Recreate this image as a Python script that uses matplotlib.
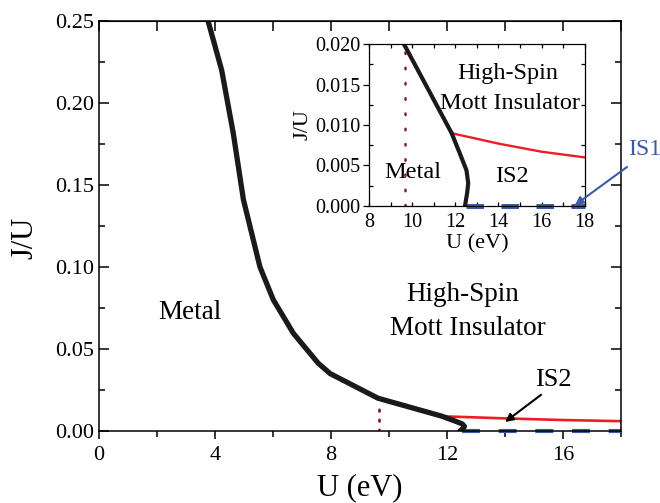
import numpy as np
import matplotlib
matplotlib.use("Agg")
import matplotlib.pyplot as plt
from matplotlib.ticker import MultipleLocator, FormatStrFormatter

plt.rcParams['font.family'] = ['Liberation Serif', 'DejaVu Serif']

# metal / insulator boundary (black)
u_metal = [3.76, 4.23, 4.63, 4.98, 5.55, 6.01, 6.70, 7.56, 7.97, 9.62, 11.83, 12.24, 12.52, 12.60, 12.55, 12.45]
j_metal = [0.250, 0.220, 0.1815, 0.141, 0.100, 0.080, 0.0596, 0.0413, 0.035, 0.020, 0.0090, 0.0063, 0.0044, 0.0028, 0.0016, 0.0]

# high-spin / IS2 boundary (red)
u_hs = [11.8, 13.0, 14.0, 16.0, 18.0]
j_hs = [0.0090, 0.0083, 0.0077, 0.0067, 0.0060]

# IS1 line at J = 0 (blue dashed)
u_is1 = [12.5, 18.0]
j_is1 = [0.0, 0.0]

# dotted marker line
u_dot = [9.66, 9.66]
j_dot_main = [0.0, 0.018]
j_dot_inset = [0.0, 0.020]

blue = '#3b5aa8'
red = '#ee1c24'
darkred = '#8b1c22'

fig = plt.figure(figsize=(6.6, 5.03), dpi=100)
ax = fig.add_axes([0.15, 0.1431, 0.791, 0.8152])

ax.plot(u_dot, j_dot_main, color=darkred, lw=2.0, linestyle=(0, (0.6, 3.0)), dash_capstyle='round')
ax.plot(u_hs, j_hs, color=red, lw=1.9)
ax.plot(u_is1, j_is1, color=blue, lw=3.0, linestyle=(0, (4.3, 4.5)), clip_on=False)
ax.plot(u_metal, j_metal, color='#1a1a1a', lw=3.8, solid_capstyle='round', solid_joinstyle='round')

ax.set_xlim(0, 18)
ax.set_ylim(0, 0.25)
ax.xaxis.set_major_locator(MultipleLocator(4))
ax.xaxis.set_minor_locator(MultipleLocator(2))
ax.yaxis.set_major_locator(MultipleLocator(0.05))
ax.yaxis.set_minor_locator(MultipleLocator(0.025))
ax.yaxis.set_major_formatter(FormatStrFormatter('%.2f'))
ax.tick_params(axis='x', which='both', direction='out', top=False, labelsize=16, width=1.1, pad=5)
ax.tick_params(axis='x', which='major', length=6)
ax.tick_params(axis='x', which='minor', length=4)
ax.tick_params(axis='y', which='both', direction='in', right=True, labelsize=16, width=1.1)
ax.tick_params(axis='y', which='major', length=7)
ax.tick_params(axis='y', which='minor', length=4)
top = ax.secondary_xaxis('top')
top.xaxis.set_major_locator(MultipleLocator(2))
top.tick_params(direction='in', labeltop=False, length=7, width=1.1)
for s in ax.spines.values():
    s.set_linewidth(1.1)

ax.set_xlabel('U (eV)', fontsize=22, labelpad=6)
ax.set_ylabel('J/U', fontsize=22)
ax.yaxis.set_label_coords(-0.115, 0.47)

ax.text(3.15, 0.0725, 'Metal', fontsize=19.5, ha='center', va='center')
ax.text(12.55, 0.083, 'High-Spin', fontsize=19.5, ha='center', va='center')
ax.text(12.72, 0.0628, 'Mott Insulator', fontsize=19.5, ha='center', va='center')
ax.annotate('IS2', xy=(14.0, 0.0055), xytext=(15.66, 0.031), fontsize=19,
            ha='center', va='center',
            arrowprops=dict(arrowstyle='-|>', color='black', lw=1.5, mutation_scale=12,
                            relpos=(0.3, 0.0), shrinkA=1, shrinkB=0))

# inset
ins = fig.add_axes([0.559, 0.5905, 0.327, 0.322])
ins.plot(u_dot, j_dot_inset, color=darkred, lw=1.8, linestyle=(0, (0.6, 5.5)), dash_capstyle='round')
ins.plot(u_hs, j_hs, color=red, lw=1.7)
ins.plot(u_is1, j_is1, color=blue, lw=3.6, linestyle=(0, (3.5, 3.5)), clip_on=False)
ins.plot(u_metal, j_metal, color='#1a1a1a', lw=3.0, solid_capstyle='round', solid_joinstyle='round')
ins.set_xlim(8, 18)
ins.set_ylim(0, 0.020)
ins.xaxis.set_major_locator(MultipleLocator(2))
ins.xaxis.set_minor_locator(MultipleLocator(1))
ins.yaxis.set_major_locator(MultipleLocator(0.005))
ins.yaxis.set_minor_locator(MultipleLocator(0.0025))
ins.yaxis.set_major_formatter(FormatStrFormatter('%.3f'))
ins.tick_params(axis='both', which='both', labelsize=14.5, width=0.9, pad=2)
ins.tick_params(axis='x', which='both', pad=5)
ins.tick_params(axis='y', which='major', direction='out', length=4)
ins.tick_params(axis='y', which='minor', direction='in', right=True, length=3)
ins.tick_params(axis='x', which='both', direction='in', top=True, length=3)
for s in ins.spines.values():
    s.set_linewidth(0.9)
ins.set_xlabel('U (eV)', fontsize=16, labelpad=2)
ins.set_ylabel('J/U', fontsize=16, labelpad=2)

ins.text(10.04, 0.0041, 'Metal', fontsize=17.5, ha='center', va='center')
ins.text(14.43, 0.0164, 'High-Spin', fontsize=17.5, ha='center', va='center')
ins.text(14.53, 0.0127, 'Mott Insulator', fontsize=17.5, ha='center', va='center')
ins.text(14.62, 0.0036, 'IS2', fontsize=17.5, ha='center', va='center')

fig.text(0.951, 0.702, 'IS1', fontsize=17, color=blue, ha='left', va='center')
ins.annotate('', xy=(17.54, 0.0001), xycoords='data',
             xytext=(627 / 660, 1 - 167 / 503), textcoords='figure fraction',
             arrowprops=dict(arrowstyle='-|>', color=blue, lw=1.5, mutation_scale=12,
                             shrinkA=0, shrinkB=0), annotation_clip=False)

fig.savefig('out.png', dpi=100)
